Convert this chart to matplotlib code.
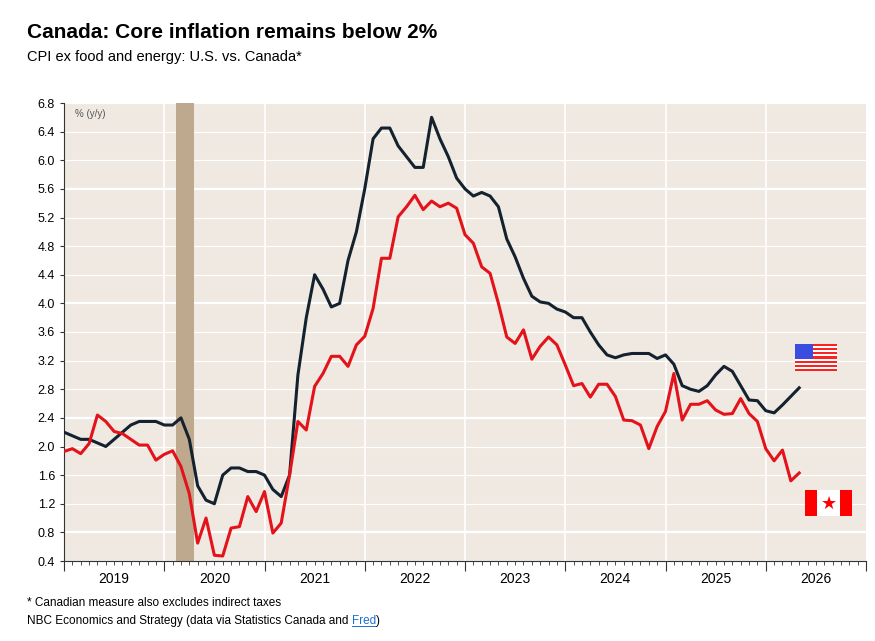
import numpy as np
import matplotlib.pyplot as plt
import matplotlib.patches as mpatches
import matplotlib.transforms as mtransforms

plt.rcParams["font.family"] = ["Liberation Sans", "DejaVu Sans"]

# monthly, index 0 = Jan 2019
us_core = [2.2, 2.15, 2.1, 2.1, 2.05, 2.0, 2.1, 2.2, 2.3, 2.35, 2.35, 2.35,
           2.3, 2.3, 2.4, 2.1, 1.45, 1.25, 1.2, 1.6, 1.7, 1.7, 1.65, 1.65,
           1.6, 1.4, 1.3, 1.6, 3.0, 3.8, 4.4, 4.2, 3.95, 4.0, 4.6, 5.0,
           5.6, 6.3, 6.45, 6.45, 6.2, 6.05, 5.9, 5.9, 6.6, 6.3, 6.05, 5.75,
           5.6, 5.5, 5.55, 5.5, 5.35, 4.9, 4.65, 4.35, 4.1, 4.02, 4.0, 3.92,
           3.88, 3.8, 3.8, 3.6, 3.42, 3.28, 3.24, 3.28, 3.3, 3.3, 3.3, 3.23,
           3.28, 3.15, 2.85, 2.8, 2.77, 2.85, 3.0, 3.12, 3.05, 2.85, 2.65, 2.64,
           2.5, 2.47, 2.58, 2.7, 2.82]
ca_core = [1.93, 1.97, 1.9, 2.04, 2.44, 2.35, 2.21, 2.18, 2.1, 2.02, 2.02, 1.81,
           1.89, 1.94, 1.72, 1.34, 0.65, 1.0, 0.48, 0.47, 0.86, 0.88, 1.3, 1.09,
           1.37, 0.79, 0.93, 1.6, 2.35, 2.23, 2.84, 3.02, 3.26, 3.26, 3.12, 3.42,
           3.54, 3.93, 4.63, 4.63, 5.21, 5.35, 5.51, 5.31, 5.43, 5.35, 5.40, 5.33,
           4.96, 4.84, 4.51, 4.42, 4.0, 3.53, 3.44, 3.63, 3.22, 3.40, 3.53, 3.42,
           3.14, 2.85, 2.88, 2.69, 2.87, 2.87, 2.70, 2.37, 2.36, 2.30, 1.97, 2.28,
           2.49, 3.02, 2.37, 2.59, 2.59, 2.64, 2.51, 2.45, 2.46, 2.67, 2.46, 2.35,
           1.97, 1.80, 1.95, 1.52, 1.63]
years = [2019, 2020, 2021, 2022, 2023, 2024, 2025, 2026]
recession = (13.4, 15.6)
yticks = np.round(np.arange(0.4, 6.81, 0.4), 1)

W, H = 875, 641
fig = plt.figure(figsize=(W / 100, H / 100), dpi=100)
ax = fig.add_axes([64 / W, (H - 561) / H, 802 / W, 458 / H])
ax.set_facecolor("#EFE9E1")

months = np.arange(len(us_core))
ax.axvspan(*recession, color="#BFA98E", zorder=1, lw=0)
for v in yticks:
    major = abs((v - 0.8) / 1.6 - round((v - 0.8) / 1.6)) < 1e-6
    ax.axhline(v, color="white", lw=1.6 if major else 0.8, zorder=0.5)
for k in range(1, 8):
    ax.axvline(12 * k, color="white", lw=1.2, zorder=0.5)

ax.plot(months, us_core, color="#14212E", lw=2.2, zorder=3)
ax.plot(months, ca_core, color="#E3121B", lw=2.2, zorder=3)

ax.set_xlim(0, 96)
ax.set_ylim(0.4, 6.8)
ax.set_yticks(yticks)
ax.set_yticklabels([f"{v:.1f}" for v in yticks], fontsize=9)
ax.set_xticks(np.arange(0, 97, 12))
ax.set_xticklabels([])
ax.set_xticks(np.arange(0, 97, 1), minor=True)
ax.tick_params(axis="x", which="major", length=7, color="#333")
ax.tick_params(axis="x", which="minor", length=3, color="#333")
ax.tick_params(axis="y", length=3, color="#333")
for s in ["top", "right"]:
    ax.spines[s].set_visible(False)
for s in ["left", "bottom"]:
    ax.spines[s].set_color("#333")

trans = mtransforms.blended_transform_factory(ax.transData, ax.transAxes)
for k, yr in enumerate(years):
    ax.text(12 * k + 6, -0.025, str(yr), transform=trans, ha="center", va="top", fontsize=10)
ax.text(1.3, 6.72, "% (y/y)", fontsize=7, color="#555", va="top")

# flags drawn in figure pixels
def rect(x, y, w, h, c):
    fig.patches.append(mpatches.Rectangle((x / W, 1 - (y + h) / H), w / W, h / H,
                                          transform=fig.transFigure, color=c, lw=0, zorder=5))

fx, fy, fw, fh = 795, 344, 42, 27
for i in range(13):
    rect(fx, fy + i * fh / 13, fw, fh / 13, "#FF2020" if i % 2 == 0 else "white")
rect(fx, fy, fw * 0.42, fh * 7 / 13, "#3B4CE0")

cx, cy, cw, ch = 805, 490, 47, 26
rect(cx, cy, cw, ch, "white")
rect(cx, cy, cw * 0.25, ch, "#FF0000")
rect(cx + cw * 0.75, cy, cw * 0.25, ch, "#FF0000")
fig.text((cx + cw / 2) / W, 1 - (cy + ch / 2 + 1) / H, "\u2605", color="#FF0000",
         fontsize=13, ha="center", va="center", family="DejaVu Sans", zorder=6)

fig.text(27 / W, 1 - 33 / H, "Canada: Core inflation remains below 2%", fontsize=15,
         fontweight="bold", va="center")
fig.text(27 / W, 1 - 57 / H, "CPI ex food and energy: U.S. vs. Canada*", fontsize=10.5,
         va="center")
fig.text(27 / W, 1 - 603 / H, "* Canadian measure also excludes indirect taxes", fontsize=8.5,
         va="center")
t = fig.text(27 / W, 1 - 621 / H, "NBC Economics and Strategy (data via Statistics Canada and ",
             fontsize=8.5, va="center")
fig.canvas.draw()
bb = t.get_window_extent()
t2 = fig.text(bb.x1 / W, 1 - 621 / H, "Fred", fontsize=8.5, va="center", color="#1F6FD0")
fig.canvas.draw()
bb2 = t2.get_window_extent()
fig.add_artist(plt.Line2D([bb2.x0 / W, bb2.x1 / W], [(bb2.y0 + 1) / H] * 2, color="#1F6FD0", lw=0.7))
fig.text(bb2.x1 / W, 1 - 621 / H, ")", fontsize=8.5, va="center")

fig.savefig("out.png", dpi=100)
